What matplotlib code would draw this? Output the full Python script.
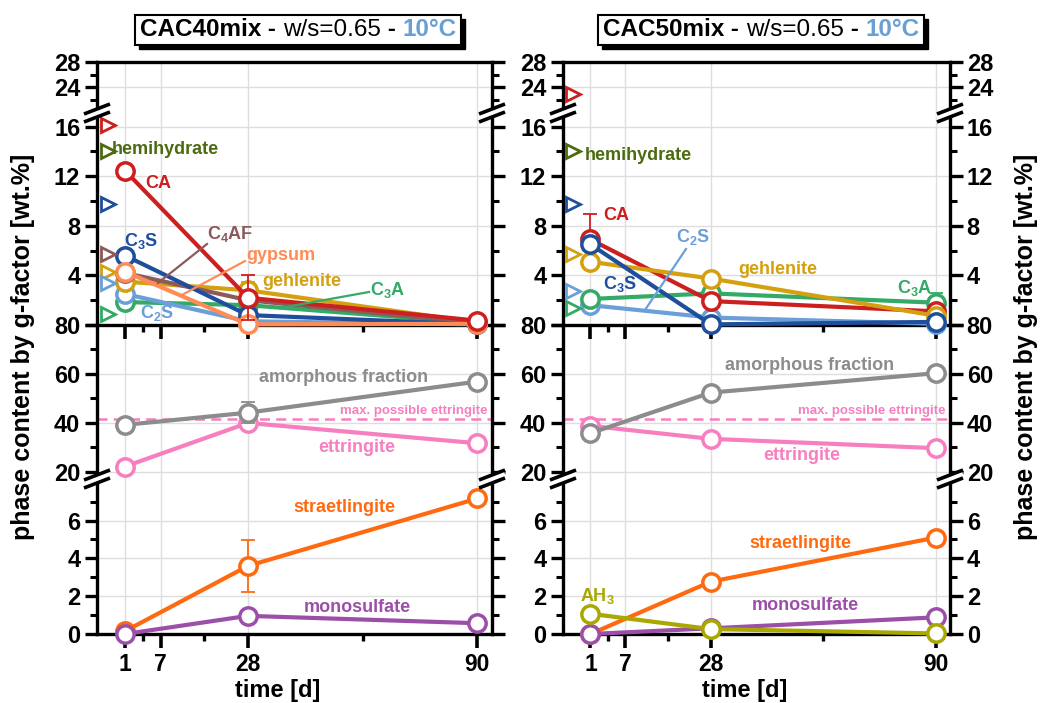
import numpy as np
import matplotlib
matplotlib.use('Agg')
import matplotlib.pyplot as plt
from matplotlib.lines import Line2D
from matplotlib.patches import Rectangle
from matplotlib.text import Annotation

plt.rcParams['font.family'] = ['Liberation Sans', 'DejaVu Sans']
plt.rcParams['font.weight'] = 'bold'
plt.rcParams['mathtext.fontset'] = 'custom'
plt.rcParams['mathtext.rm'] = 'Liberation Sans:bold'
plt.rcParams['mathtext.it'] = 'Liberation Sans:bold'
plt.rcParams['mathtext.bf'] = 'Liberation Sans:bold'

W, H = 1056, 703

# ---------------- data ----------------
days = [1, 28, 90]
day_start = 0          # unhydrated mix
time_ticks = [1, 7, 28, 90]
time_minor = [4, 17.5, 59]

# CAC40mix - anhydrous phases [wt.%]
ca_40 = [12.45, 2.2, 0.35]
ca_40_err = [0, 1.8, 0]
c3s_40 = [5.6, 0.8, 0.05]
c2s_40 = [2.5, 0.3, 0.05]
c4af_40 = [4.2, 2.0, 0.15]
gyp_40 = [4.3, 0.05, 0.1]
geh_40 = [3.5, 2.8, 0.2]
geh_40_err = [0, 0.7, 0]
c3a_40 = [1.85, 1.6, 0.15]
# initial contents (day 0): CA, hemihydrate, C3S, C4AF, gehlenite, C2S, C3A
init_40 = [16.1, 14.0, 9.8, 5.7, 4.25, 3.4, 0.9]
# hydrates
amo_40 = [39.2, 44.2, 56.9]
amo_40_err = [0, 4.4, 0]
ett_40 = [22.2, 40.0, 31.7]
str_40 = [0.15, 3.6, 7.17]
str_40_err = [0, 1.37, 0]
mono_40 = [0.0, 0.96, 0.57]
ett_max_40 = 41.6

# CAC50mix - anhydrous phases [wt.%]
ca_50 = [6.9, 1.93, 1.1]
ca_50_err = [2.05, 0, 0]
c3s_50 = [6.5, 0.05, 0.25]
c2s_50 = [1.6, 0.6, 0.1]
geh_50 = [5.1, 3.75, 0.75]
c3a_50 = [2.1, 2.55, 1.8]
c3a_50_err = [0, 0, 0.75]
# initial contents (day 0): CA, hemihydrate, C3S, gehlenite, C2S, C3A
init_50 = [23.0, 14.0, 9.8, 5.7, 2.75, 1.35]
# hydrates
amo_50 = [35.8, 52.4, 60.3]
ett_50 = [38.8, 33.5, 29.7]
str_50 = [0.0, 2.77, 5.1]
mono_50 = [0.0, 0.3, 0.88]
ah3_50 = [1.07, 0.26, 0.03]
ett_max_50 = 41.6

# colours
ca_c, c3s_c, c2s_c, c4af_c = '#cc1f1f', '#1f4e9c', '#6a9fd8', '#8c5a5a'
gyp_c, geh_c, c3a_c, hh_c = '#ff8c55', '#d4a010', '#33aa66', '#4b6b10'
amo_c, ett_c, str_c, mono_c, ah3_c = '#8c8c8c', '#f77fbf', '#ff6a10', '#9b4fa8', '#a8a800'
title_blue = '#6a9fd4'

# segmented time axis (piecewise linear)
knot_days = [-10, 0, 1, 7, 28, 90, 150]
knot_pos = [-0.413, 0.027, 0.071, 0.161, 0.382, 0.963, 1.525]


def fwd(d):
    return np.interp(d, knot_days, knot_pos)


def inv(p):
    return np.interp(p, knot_pos, knot_days)


# broken y axis: top px, bottom px, ylim, major, minor
SEGS = [
    (62, 113, (19.95, 28), [24, 28], [22, 26]),
    (113, 325, (0, 17.1), [0, 4, 8, 12, 16], [2, 6, 10, 14]),
    (325, 479, (17.1, 80), [20, 40, 60, 80], [30, 50, 70]),
    (479, 634, (0, 8.2), [0, 2, 4, 6], [1, 3, 5, 7]),
]

fig = plt.figure(figsize=(W / 100, H / 100), dpi=100)


def fpt(x, y):
    return x / W, 1 - y / H


def make_axes(x0, x1, labels_right):
    axes = []
    for k, (top, bot, ylim, major, minor) in enumerate(SEGS):
        ax = fig.add_axes([x0 / W, 1 - bot / H, (x1 - x0) / W, (bot - top) / H])
        ax.set_zorder({0: 1, 1: 3, 2: 2, 3: 4}[k])
        ax.set_facecolor('none')
        ax.set_xscale('function', functions=(fwd, inv))
        ax.set_xlim(inv(0), inv(1))
        ax.set_xticks(time_ticks)
        ax.set_xticks(time_minor, minor=True)
        ax.set_xticklabels([str(t) for t in time_ticks])
        ax.set_ylim(*ylim)
        ax.set_yticks(major)
        ax.set_yticks(minor, minor=True)
        ax.set_yticklabels(['' if (k == 1 and v == 0) else str(v) for v in major])
        ax.grid(which='major', color='#dedede', lw=1)
        ax.set_axisbelow(True)
        for s in ax.spines.values():
            s.set_linewidth(2.4)
        ax.spines['bottom'].set_visible(k in (1, 3))
        ax.spines['top'].set_visible(k == 0)
        ax.tick_params(axis='x', which='both', bottom=k in (1, 3), top=False,
                       labelbottom=k == 3, direction='out')
        ax.tick_params(axis='x', which='major', length=10, width=2.6, labelsize=16.5, pad=4)
        ax.tick_params(axis='x', which='minor', length=5, width=2.4)
        ax.tick_params(axis='y', which='both', left=True, right=True, labelleft=True,
                       labelright=labels_right, direction='out')
        ax.tick_params(axis='y', which='major', length=9, width=2.4, labelsize=17, pad=3)
        ax.tick_params(axis='y', which='minor', length=5, width=2.2)
        axes.append(ax)
    for xp in (x0, x1):
        for yp in (113, 479):
            axis_break(xp, yp)
    return axes


def axis_break(xp, yp):
    for dy, c, lw in [(0, 'white', 5), (-4, 'black', 2.6), (4, 'black', 2.6)]:
        xa, ya = fpt(xp - 13, yp + 5 + dy)
        xb, yb = fpt(xp + 13, yp - 5 + dy)
        fig.add_artist(Line2D([xa, xb], [ya, yb], color=c, lw=lw,
                              transform=fig.transFigure, zorder=10,
                              solid_capstyle='butt'))


def series(ax, vals, color, z, err=None):
    if err is not None:
        ax.errorbar(days, vals, yerr=err, fmt='none', ecolor=color, elinewidth=1.3,
                    capsize=5, capthick=1.3, zorder=z - 0.5)
    ax.plot(days, vals, color=color, lw=3, marker='o', ms=12.5, mfc='white',
            mec=color, mew=2.5, zorder=z, clip_on=False)


def initial(axes, vals, colors):
    for v, c in zip(vals, colors):
        ax = axes[0] if v > SEGS[0][2][0] else axes[1]
        ax.plot(day_start, v, marker='>', ms=10, mfc='white', mec=c, mew=2,
                ls='none', clip_on=False, zorder=8)


def label(x, y, s, color, size=13, ha='left'):
    fig.text(*fpt(x, y), s, color=color, fontsize=size, fontweight='bold',
             ha=ha, va='center', zorder=12)


def leader(p0, p1, color):
    (xa, ya), (xb, yb) = fpt(*p0), fpt(*p1)
    fig.add_artist(Line2D([xa, xb], [ya, yb], color=color, lw=1.6,
                          transform=fig.transFigure, zorder=9))


def boxed_title(cx, cy, parts):
    texts = []
    prev = None
    for s, weight, color in parts:
        if prev is None:
            t = fig.text(0, 1 - cy / H, s, fontsize=17.5, fontweight=weight,
                         color=color, va='center', ha='left', zorder=12)
        else:
            t = Annotation(s, xy=(1, 0), xycoords=prev, va='bottom', ha='left',
                           fontsize=17.5, fontweight=weight, color=color, zorder=12)
            fig.add_artist(t)
        texts.append(t)
        prev = t
    fig.canvas.draw()
    r = fig.canvas.get_renderer()
    bbs = [t.get_window_extent(r) for t in texts]
    width = max(b.x1 for b in bbs) - min(b.x0 for b in bbs)
    texts[0].set_x((cx - width / 2) / W)
    fig.canvas.draw()
    bbs = [t.get_window_extent(r) for t in texts]
    x0 = min(b.x0 for b in bbs) - 5
    x1 = max(b.x1 for b in bbs) + 5
    y0 = min(b.y0 for b in bbs) - 4
    y1 = max(b.y1 for b in bbs) + 3
    fig.add_artist(Rectangle(((x0 + 4) / W, (y0 - 4) / H), (x1 - x0) / W, (y1 - y0) / H,
                             transform=fig.transFigure, facecolor='black',
                             edgecolor='black', zorder=10))
    fig.add_artist(Rectangle((x0 / W, y0 / H), (x1 - x0) / W, (y1 - y0) / H,
                             transform=fig.transFigure, facecolor='white',
                             edgecolor='black', lw=1.5, zorder=11))


# ---------------- left panel: CAC40mix ----------------
axL = make_axes(97, 492, False)
A, B, C, D = axL
series(B, c3a_40, c3a_c, 3)
series(B, c2s_40, c2s_c, 4)
series(B, geh_40, geh_c, 5, geh_40_err)
series(B, c4af_40, c4af_c, 6)
series(B, c3s_40, c3s_c, 7)
series(B, gyp_40, gyp_c, 8)
series(B, ca_40, ca_c, 9, ca_40_err)
initial(axL, init_40, [ca_c, hh_c, c3s_c, c4af_c, geh_c, c2s_c, c3a_c])
C.axhline(ett_max_40, color=ett_c, ls='--', lw=1.8, dashes=(4, 2.5), zorder=2)
series(C, ett_40, ett_c, 3)
series(C, amo_40, amo_c, 4, amo_40_err)
series(D, str_40, str_c, 3, str_40_err)
series(D, mono_40, mono_c, 4)

label(112, 150, 'hemihydrate', hh_c)
label(145, 183, 'CA', ca_c)
label(124, 241, 'C$_3$S', c3s_c)
label(207, 234, 'C$_4$AF', c4af_c)
label(246, 256, 'gypsum', gyp_c)
label(262, 281, 'gehlenite', geh_c)
label(370, 290, 'C$_3$A', c3a_c)
label(140, 313, 'C$_2$S', c2s_c)
leader((158, 283), (207, 244), c4af_c)
leader((180, 296), (245, 261), gyp_c)
leader((280, 308), (369, 292), c3a_c)
label(259, 378, 'amorphous fraction', amo_c)
label(487, 411, 'max. possible ettringite', ett_c, size=9.5, ha='right')
label(318, 448, 'ettringite', ett_c)
label(293, 507, 'straetlingite', str_c)
label(304, 607, 'monosulfate', mono_c)

# ---------------- right panel: CAC50mix ----------------
axR = make_axes(563, 950, True)
A, B, C, D = axR
series(B, c2s_50, c2s_c, 3)
series(B, c3a_50, c3a_c, 4, c3a_50_err)
series(B, ca_50, ca_c, 5, ca_50_err)
series(B, geh_50, geh_c, 6)
series(B, c3s_50, c3s_c, 7)
initial(axR, init_50, [ca_c, hh_c, c3s_c, geh_c, c2s_c, c3a_c])
C.axhline(ett_max_50, color=ett_c, ls='--', lw=1.8, dashes=(4, 2.5), zorder=2)
series(C, ett_50, ett_c, 3)
series(C, amo_50, amo_c, 4)
series(D, str_50, str_c, 3)
series(D, mono_50, mono_c, 4)
series(D, ah3_50, ah3_c, 5)

label(585, 156, 'hemihydrate', hh_c)
label(603, 216, 'CA', ca_c)
label(676, 237, 'C$_2$S', c2s_c)
label(603, 284, 'C$_3$S', c3s_c)
label(738, 270, 'gehlenite', geh_c)
label(897, 288, 'C$_3$A', c3a_c)
leader((645, 310), (686, 249), c2s_c)
label(725, 366, 'amorphous fraction', amo_c)
label(945, 411, 'max. possible ettringite', ett_c, size=9.5, ha='right')
label(763, 455, 'ettringite', ett_c)
label(749, 543, 'straetlingite', str_c)
label(752, 606, 'monosulfate', mono_c)
label(580, 596, 'AH$_3$', ah3_c)

# axis titles
for x in (23, 1026):
    fig.text(*fpt(x, 347), 'phase content by g-factor [wt.%]', rotation=90,
             fontsize=18, fontweight='bold', ha='center', va='center')
for x in (278, 745):
    fig.text(*fpt(x, 691), 'time [d]', fontsize=17, fontweight='bold',
             ha='center', va='center')

boxed_title(298, 29, [('CAC40mix', 'bold', 'black'), (' - ', 'bold', 'black'),
                      ('w/s=0.65', 'normal', 'black'), (' - ', 'bold', 'black'),
                      ('10°C', 'bold', title_blue)])
boxed_title(761, 29, [('CAC50mix', 'bold', 'black'), (' - ', 'bold', 'black'),
                      ('w/s=0.65', 'normal', 'black'), (' - ', 'bold', 'black'),
                      ('10°C', 'bold', title_blue)])

fig.savefig('out.png', dpi=100)
